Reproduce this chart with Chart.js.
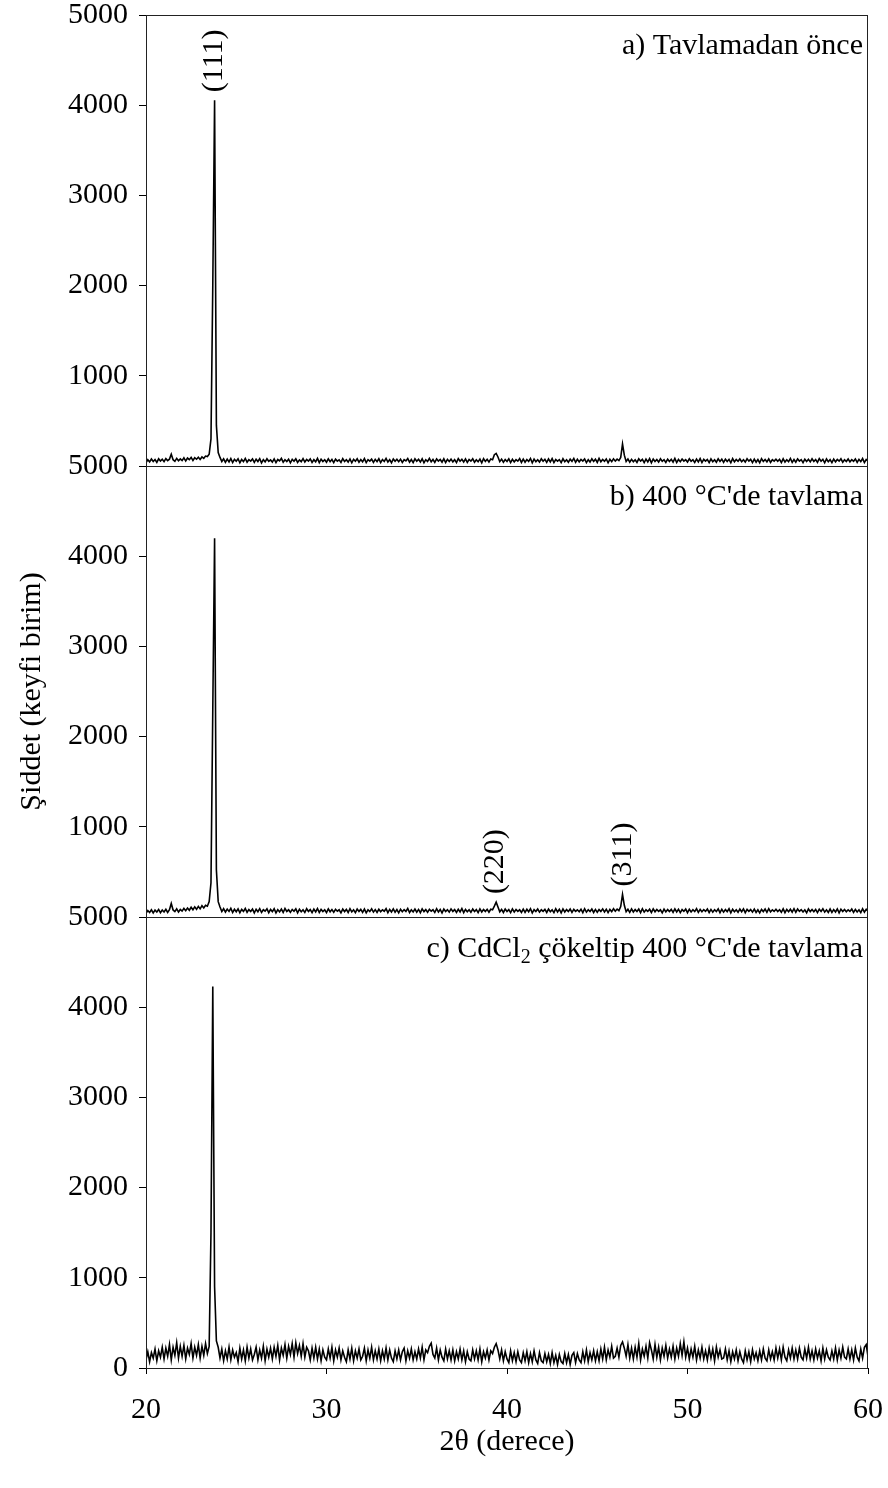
<!DOCTYPE html>
<html>
<head>
<meta charset="utf-8">
<script src="https://cdn.jsdelivr.net/npm/chart.js@4.4.1/dist/chart.umd.min.js"></script>
<style>
  html, body { margin: 0; padding: 0; background: #fff; }
  canvas { display: block; }
</style>
</head>
<body>
<canvas id="xrd" width="888" height="1488"></canvas>
<script>
// XRD patterns, three panels sharing one 2-theta axis

// 2-theta grid, 20.0 .. 60.0 in steps of 0.1 deg
const twoTheta = Array.from({ length: 401 }, (_, i) => +(20 + i * 0.1).toFixed(1));

// a) before annealing  (one row per degree, 20.x ... 59.x, then 60.0)
const intensityA = [
  35,70,45,78,50,72,40,80,55,75,
  48,82,60,76,130,70,52,85,58,78,
  60,90,55,88,70,95,62,92,75,98,
  72,100,85,110,105,130,300,2000,4055,450,
  150,95,50,80,40,76,45,82,38,74,
  52,80,36,72,48,84,42,70,55,78,
  40,76,50,82,35,70,46,80,52,68,
  44,78,38,72,56,84,42,70,50,76,
  36,74,52,80,40,68,48,82,44,72,
  54,78,40,70,46,84,38,76,50,70,
  42,80,48,72,38,76,54,68,40,82,
  50,70,44,78,36,74,52,80,42,72,
  46,82,38,70,54,76,40,74,48,80,
  38,72,50,84,44,70,36,78,52,74,
  48,76,40,70,56,82,42,72,38,80,
  52,74,44,80,36,70,50,84,46,72,
  40,78,54,72,42,80,38,74,50,76,
  46,70,38,82,52,74,44,78,40,72,
  54,80,42,70,48,76,36,82,50,74,
  44,78,70,125,140,100,48,76,42,72,
  50,80,38,74,46,70,54,82,40,76,
  42,72,50,84,36,76,48,70,44,80,
  52,74,40,78,46,82,38,72,54,70,
  38,80,48,70,42,76,52,84,40,74,
  46,72,54,78,38,70,44,80,50,76,
  40,84,46,72,52,78,36,74,48,80,
  54,76,60,95,245,120,50,78,42,74,
  48,70,40,80,54,74,38,76,46,82,
  36,78,50,72,44,80,52,70,40,76,
  50,74,42,84,38,72,48,78,54,70,
  44,80,52,70,40,76,46,82,38,74,
  54,72,38,78,48,70,42,80,50,76,
  40,76,50,74,36,82,46,72,52,78,
  48,70,44,80,54,74,38,76,42,72,
  36,82,50,72,46,78,40,70,54,76,
  52,74,38,80,44,70,48,84,40,72,
  42,78,54,70,38,76,50,74,46,80,
  50,72,40,82,52,74,36,78,48,70,
  38,76,46,72,54,80,42,70,50,78,
  46,70,52,78,40,74,48,82,38,72,
  55
];

// b) annealed at 400 C
const intensityB = [
  40,72,50,80,45,76,55,84,48,78,
  56,86,50,80,150,78,60,90,55,84,
  65,95,70,100,75,108,80,112,85,118,
  90,125,100,130,120,170,380,2300,4200,520,
  170,110,60,92,55,88,62,96,50,86,
  58,90,48,84,62,94,52,82,60,88,
  46,86,58,92,50,80,64,90,48,84,
  60,92,46,82,56,88,50,94,62,80,
  52,84,64,90,46,86,58,80,50,92,
  62,82,48,88,56,94,50,84,60,80,
  48,90,58,82,52,86,64,80,46,88,
  60,84,50,92,56,80,48,88,62,84,
  52,88,46,80,60,90,54,82,50,86,
  58,80,64,92,48,84,56,90,52,82,
  46,86,58,82,62,94,50,80,56,88,
  54,84,48,90,60,82,52,86,64,80,
  50,92,56,84,46,88,60,80,54,90,
  62,82,50,86,56,94,48,84,58,80,
  52,88,60,82,48,90,56,84,62,86,
  54,86,80,120,165,110,58,84,50,88,
  60,82,48,90,56,84,62,80,50,88,
  52,86,58,92,46,82,60,88,54,80,
  62,84,50,88,58,80,48,92,56,86,
  46,90,56,82,60,88,52,84,62,80,
  58,86,48,92,54,80,60,88,50,84,
  52,82,62,90,56,86,48,84,60,92,
  64,88,70,115,250,130,58,86,52,90,
  56,82,60,88,48,92,54,80,62,86,
  50,90,58,84,62,80,46,88,56,82,
  60,84,52,90,56,86,48,82,62,88,
  48,86,56,80,60,92,52,84,58,82,
  62,88,50,84,54,80,60,90,48,86,
  54,82,60,92,46,86,58,80,52,88,
  58,90,48,84,62,82,54,88,50,80,
  46,84,60,88,52,92,56,80,62,86,
  60,80,52,90,48,84,58,86,54,92,
  52,88,62,82,56,80,46,90,60,84,
  58,84,48,86,62,92,54,80,50,88,
  50,82,56,90,46,86,60,84,58,80,
  62,88,52,84,56,80,48,92,54,86,
  64
];

// c) CdCl2 treated, annealed at 400 C
const intensityC = [
  90,180,70,170,110,210,80,190,120,230,
  100,220,130,260,90,230,140,280,110,240,
  130,250,100,220,150,270,110,230,140,260,
  110,240,140,270,160,240,1500,4230,900,300,
  230,110,210,80,190,100,230,90,200,120,
  170,70,220,100,200,80,230,110,210,90,
  150,230,90,200,110,240,80,210,120,220,
  100,230,130,250,90,220,140,260,110,240,
  150,270,120,280,160,250,130,270,120,230,
  190,90,220,110,230,100,210,80,200,120,
  90,210,110,230,80,200,120,220,90,190,
  120,70,200,100,220,80,190,110,210,90,
  130,220,80,200,110,230,90,190,100,210,
  80,190,100,220,90,200,110,70,190,100,
  200,90,180,220,80,190,110,210,90,180,
  100,210,110,230,90,200,170,240,275,150,
  110,220,90,200,120,80,210,100,190,90,
  200,80,180,100,210,90,190,70,180,100,
  80,200,100,190,90,210,70,180,110,200,
  90,190,160,230,270,200,100,200,80,180,
  100,60,190,80,170,70,180,90,60,170,
  80,180,60,160,70,190,90,50,170,80,
  60,160,70,150,50,170,60,140,40,150,
  70,50,160,60,150,40,140,170,60,160,
  90,60,180,80,200,70,170,90,190,80,
  180,80,210,100,230,90,200,120,240,110,
  130,220,120,250,290,220,130,260,110,220,
  100,230,120,270,90,210,130,240,110,280,
  200,100,260,120,230,90,220,130,250,110,
  210,120,240,100,220,130,270,140,290,120,
  220,100,210,120,240,90,200,110,230,100,
  190,90,220,110,210,80,230,120,200,100,
  110,210,90,190,70,180,100,200,80,180,
  100,60,190,90,180,70,200,100,170,80,
  190,90,210,110,80,200,100,180,90,220,
  110,210,90,230,120,80,200,110,220,100,
  200,100,220,120,90,210,110,230,100,190,
  90,210,110,190,80,220,100,200,120,90,
  190,100,220,90,200,110,230,120,100,210,
  100,200,90,220,120,80,210,110,230,260,
  130
];

// panel captions and peak indices
const panelAxes = ['yA', 'yB', 'yC'];
const panelTitles = ['a) Tavlamadan önce', "b) 400 °C'de tavlama", null];
const peakLabels = ['(111)', '(220)', '(311)'];
const peakAngles = [23.77, 39.33, 46.42];
const peakTops = [4055, 165, 250];
const peakPanels = ['yA', 'yB', 'yB'];

const SERIF = "'Liberation Serif', 'Times New Roman', serif";
Chart.defaults.font.family = SERIF;
Chart.defaults.font.size = 30;
Chart.defaults.color = '#000';

function series(values, axis) {
  return {
    data: twoTheta.map((x, i) => ({ x, y: values[i] })),
    yAxisID: axis,
    borderColor: '#000',
    borderWidth: 1.6,
    pointRadius: 0,
    tension: 0,
    fill: false
  };
}

function yScale(weight, showZero, title) {
  return {
    type: 'linear',
    position: 'left',
    stack: 'panels',
    stackWeight: 1,
    weight: weight,
    min: 0,
    max: 5000,
    border: { display: false },
    grid: { drawOnChartArea: false, drawTicks: true, tickLength: 7, color: '#000' },
    ticks: {
      stepSize: 1000,
      padding: 11,
      callback: v => (v === 0 && !showZero) ? '' : String(v)
    },
    title: title ? { display: true, text: title, padding: { top: 14, bottom: 0 } } : { display: false },
    afterFit: s => { s.width = 146; s.paddingTop = 0; s.paddingBottom = 0; }
  };
}

// frames, panel captions and peak labels
const decorations = {
  id: 'decorations',
  afterDraw(chart) {
    const { ctx, chartArea, scales } = chart;
    ctx.save();
    ctx.strokeStyle = '#222';
    ctx.lineWidth = 1;
    panelAxes.forEach(id => {
      const s = scales[id];
      ctx.strokeRect(chartArea.left + 0.5, Math.round(s.top) + 0.5,
        chartArea.right - chartArea.left - 1, Math.round(s.bottom) - Math.round(s.top));
    });

    ctx.fillStyle = '#000';
    ctx.font = '30px ' + SERIF;
    ctx.textBaseline = 'middle';
    ctx.textAlign = 'right';
    panelTitles.forEach((t, i) => {
      if (!t) return;
      ctx.fillText(t, chartArea.right - 5, scales[panelAxes[i]].top + 31);
    });

    // c) caption with subscript
    const yc = scales.yC.top + 32;
    const partA = 'c) CdCl', sub = '2', partB = " çökeltip 400 °C'de tavlama";
    ctx.textAlign = 'left';
    ctx.font = '30px ' + SERIF;
    const wA = ctx.measureText(partA).width, wB = ctx.measureText(partB).width;
    ctx.font = '20px ' + SERIF;
    const wS = ctx.measureText(sub).width;
    let x = chartArea.right - 5 - wA - wS - wB;
    ctx.font = '30px ' + SERIF;
    ctx.fillText(partA, x, yc);
    x += wA;
    ctx.font = '20px ' + SERIF;
    ctx.fillText(sub, x, yc + 9);
    x += wS;
    ctx.font = '30px ' + SERIF;
    ctx.fillText(partB, x, yc);

    // rotated Miller indices above the peaks
    peakLabels.forEach((t, i) => {
      const px = scales.x.getPixelForValue(peakAngles[i]);
      const py = scales[peakPanels[i]].getPixelForValue(peakTops[i]) - 8;
      ctx.save();
      ctx.translate(px, py);
      ctx.rotate(-Math.PI / 2);
      ctx.textAlign = 'left';
      ctx.textBaseline = 'middle';
      ctx.fillText(t, 0, 0);
      ctx.restore();
    });
    ctx.restore();
  }
};

new Chart(document.getElementById('xrd'), {
  type: 'line',
  data: {
    datasets: [
      series(intensityA, 'yA'),
      series(intensityB, 'yB'),
      series(intensityC, 'yC')
    ]
  },
  options: {
    responsive: false,
    animation: false,
    layout: { padding: { top: 15, right: 20, left: 0, bottom: 0 } },
    plugins: { legend: { display: false }, tooltip: { enabled: false } },
    scales: {
      x: {
        type: 'linear',
        position: 'bottom',
        min: 20,
        max: 60,
        border: { display: false },
        grid: { drawOnChartArea: false, drawTicks: true, tickLength: 6, color: '#000' },
        ticks: { stepSize: 10, padding: 18, maxRotation: 0, callback: v => String(v) },
        title: { display: true, text: '2θ (derece)', padding: { top: 0, bottom: 28 } },
        afterFit: s => { s.height = 120; s.paddingLeft = 0; s.paddingRight = 0; }
      },
      yA: yScale(3, false, null),
      yB: yScale(2, false, 'Şiddet (keyfi birim)'),
      yC: yScale(1, true, null)
    }
  },
  plugins: [decorations]
});
</script>
</body>
</html>
